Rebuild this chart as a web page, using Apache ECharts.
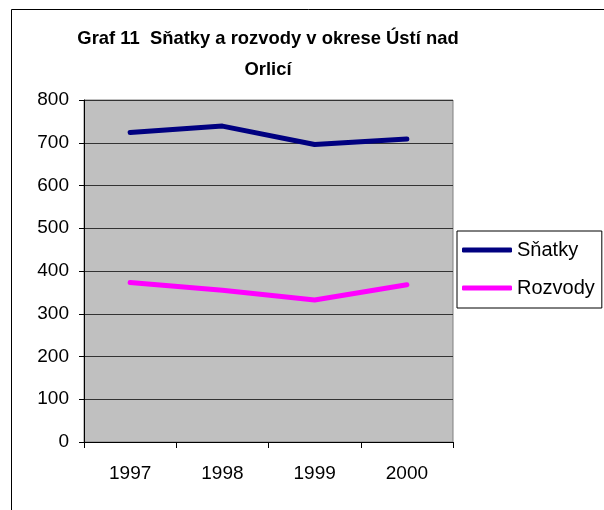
<!DOCTYPE html>
<html>
<head>
<meta charset="utf-8">
<script src="https://cdn.jsdelivr.net/npm/echarts@6/dist/echarts.min.js"></script>
<style>
html, body { margin: 0; padding: 0; background: #fff; }
#chart { width: 604px; height: 510px; }
</style>
</head>
<body>
<div id="chart"></div>
<script>
var years = ['1997', '1998', '1999', '2000'];
var snatky = [724, 739, 696, 709];
var rozvody = [373, 355, 332, 368];
var seriesNames = ['Sňatky', 'Rozvody'];

var chart = echarts.init(document.getElementById('chart'));
var font = 'Liberation Sans, Arial, sans-serif';

var option = {
    animation: false,
    backgroundColor: '#fff',
    graphic: [
        {
            type: 'rect',
            shape: { x: 11.5, y: 9.5, width: 700, height: 600 },
            style: { fill: 'none', stroke: '#000', lineWidth: 1 },
            silent: true
        }
    ],
    title: {
        text: 'Graf 11  Sňatky a rozvody v okrese Ústí nad\nOrlicí',
        left: 263,
        textAlign: 'center',
        top: 18,
        textStyle: {
            fontFamily: font,
            fontSize: 18.4,
            fontWeight: 'bold',
            color: '#000',
            lineHeight: 31
        }
    },
    legend: {
        orient: 'vertical',
        left: 457,
        top: 231,
        data: seriesNames,
        icon: 'roundRect',
        itemWidth: 50,
        itemHeight: 5,
        itemGap: 16,
        padding: [8, 7, 9, 5],
        borderColor: '#000',
        borderWidth: 1,
        backgroundColor: '#fff',
        textStyle: {
            fontFamily: font,
            fontSize: 20,
            color: '#000',
            lineHeight: 22
        }
    },
    grid: {
        left: 84,
        top: 100,
        width: 369,
        height: 342,
        show: true,
        backgroundColor: '#C0C0C0',
        borderColor: '#808080',
        borderWidth: 1
    },
    xAxis: {
        type: 'category',
        data: years,
        boundaryGap: true,
        axisLine: { lineStyle: { color: '#000', width: 1 } },
        axisTick: { show: true, length: 6, lineStyle: { color: '#000' } },
        axisLabel: {
            fontFamily: font,
            fontSize: 19,
            color: '#000',
            margin: 22
        }
    },
    yAxis: {
        type: 'value',
        min: 0,
        max: 800,
        interval: 100,
        axisLine: { show: true, lineStyle: { color: '#000', width: 1 } },
        axisTick: { show: true, length: 5, lineStyle: { color: '#000' } },
        axisLabel: {
            fontFamily: font,
            fontSize: 19,
            color: '#000',
            margin: 15
        },
        splitLine: { show: true, lineStyle: { color: '#333', width: 1 } }
    },
    series: [
        {
            name: seriesNames[0],
            type: 'line',
            data: snatky,
            symbol: 'none',
            color: '#000080',
            lineStyle: { color: '#000080', width: 5, cap: 'round', join: 'round' }
        },
        {
            name: seriesNames[1],
            type: 'line',
            data: rozvody,
            symbol: 'none',
            color: '#FF00FF',
            lineStyle: { color: '#FF00FF', width: 5, cap: 'round', join: 'round' }
        }
    ]
};
chart.setOption(option);
window.onresize = chart.resize;
</script>
</body>
</html>
